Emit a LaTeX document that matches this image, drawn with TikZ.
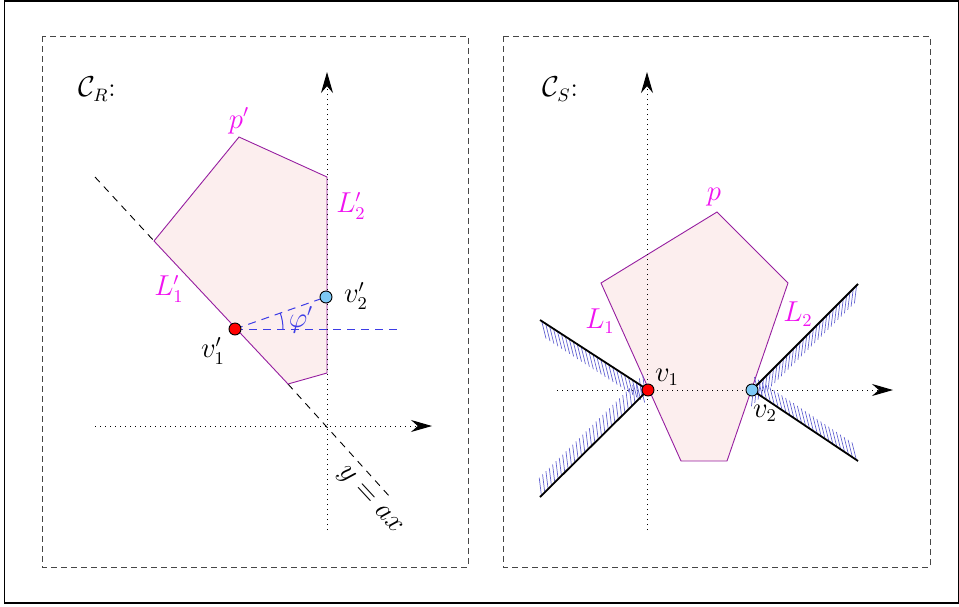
\documentclass[tikz,border=0pt]{standalone}
\usetikzlibrary{arrows.meta,calc}
\definecolor{polyfill}{RGB}{252,238,238}
\definecolor{polyline}{RGB}{150,30,160}
\definecolor{lblmag}{RGB}{240,20,240}
\definecolor{hatchcol}{RGB}{100,100,210}
\definecolor{dotblue}{RGB}{125,200,245}
\definecolor{boxgray}{RGB}{70,70,70}
\definecolor{phiblue}{RGB}{60,60,230}
\begin{document}
\begin{tikzpicture}[x=0.5pt,y=-0.5pt,
  every node/.style={font=\fontsize{13.5}{16}\selectfont},
  boxdash/.style={draw=boxgray,line width=0.45pt,dash pattern=on 3pt off 2pt},
  axisline/.style={line width=0.5pt,dotted,-{Stealth[length=10.5pt,width=6pt]}},
  polyshape/.style={draw=polyline,fill=polyfill,line width=0.45pt},
  bluedash/.style={draw=phiblue,line width=0.5pt,dash pattern=on 4pt off 3pt},
  wedgeline/.style={line width=0.9pt},
  hatchtick/.style={draw=hatchcol,line width=0.35pt},
  vdot/.style={circle,draw=black,line width=0.45pt,inner sep=0pt,minimum size=6pt},
  mag/.style={text=lblmag},
]
\useasboundingbox (0,0) rectangle (959,606);
\draw[line width=0.6pt] (4.5,1) rectangle (958.5,603);

% boxes
\draw[boxdash] (42,36) rectangle (468,567);
\draw[boxdash] (503,36) rectangle (930,567);

% ---------- left panel ----------
\node (CR) at (97,89) {$\mathcal{C}_R$:};
\coordinate (la) at (95,177);
\coordinate (lb) at (390,497);

\coordinate (P1) at (239,137);
\coordinate (P2) at (327,177);
\coordinate (P3) at (327,373);
\coordinate (P4) at (288,384);
\coordinate (P5) at (154,241);
\draw[line width=0.45pt,dash pattern=on 3.5pt off 3pt] (la) -- (P5);
\draw[line width=0.45pt,dash pattern=on 3.5pt off 3pt] (P4) -- (lb);
\node[rotate=-47.3] (yax) at (369,501) {$y=ax$};
\draw[polyshape] (P1) -- (P2) -- (P3) -- (P4) -- (P5) -- cycle;

\coordinate (xa1s) at (95,426);
\coordinate (xa1e) at (432,426);
\coordinate (ya1s) at (327,530);
\coordinate (ya1e) at (327,72);
\draw[axisline] (xa1s) -- (xa1e);
\draw[axisline] (ya1s) -- (ya1e);

\coordinate (v1pc) at (235,329);
\coordinate (v2pc) at (326,297);
\coordinate (hend) at (398,329);
\draw[bluedash] (v1pc) -- (v2pc);
\draw[bluedash] (v1pc) -- (hend);
\draw[phiblue,line width=0.5pt] ($(v1pc)+(48,0)$) arc[start angle=0,end angle=-19.4,radius=48];
\node[text=phiblue] (phi) at (301,320) {$\varphi'$};

\node[vdot,fill=red] (v1p) at (v1pc) {};
\node[vdot,fill=dotblue] (v2p) at (v2pc) {};

\node[mag] (pp) at (239,121) {$p'$};
\node[mag] (L2p) at (351,206) {$L_2'$};
\node[mag] (L1p) at (169,289) {$L_1'$};
\node (v1pl) at (213,351) {$v_1'$};
\node (v2pl) at (356,296) {$v_2'$};

% ---------- right panel ----------
\node (CS) at (560,89) {$\mathcal{C}_S$:};
\coordinate (Q1) at (717,212);
\coordinate (Q2) at (788,283);
\coordinate (Q3) at (727,461);
\coordinate (Q4) at (681,461);
\coordinate (Q5) at (601,283);
\draw[polyshape] (Q1) -- (Q2) -- (Q3) -- (Q4) -- (Q5) -- cycle;

\coordinate (xa2s) at (557,390);
\coordinate (xa2e) at (893,390);
\coordinate (ya2s) at (647,530);
\coordinate (ya2e) at (647,72);
\draw[axisline] (xa2s) -- (xa2e);
\draw[axisline] (ya2s) -- (ya2e);

\coordinate (v1c) at (648,390);
\coordinate (v2c) at (752,390);
\coordinate (wA) at (540,320);
\coordinate (wB) at (540,497);
\coordinate (wC) at (858,284);
\coordinate (wD) at (858,461);

% hatching (short strokes along the inner side of each wedge line)
\foreach \i in {0,...,25}{
  \pgfmathsetmacro\t{(2+4.7*\i)/128.7}
  \draw[hatchtick] ($(wA)!\t!(v1c)$) -- ++(76:18);
}
\foreach \i in {0,...,31}{
  \pgfmathsetmacro\t{(2+4.7*\i)/152}
  \draw[hatchtick] ($(wB)!\t!(v1c)$) -- ++(-97:18);
}
\foreach \i in {0,...,31}{
  \pgfmathsetmacro\t{(2+4.7*\i)/150}
  \draw[hatchtick] ($(wC)!\t!(v2c)$) -- ++(97:18);
}
\foreach \i in {0,...,25}{
  \pgfmathsetmacro\t{(2+4.7*\i)/127.6}
  \draw[hatchtick] ($(wD)!\t!(v2c)$) -- ++(-104:18);
}

\draw[wedgeline] (wA) -- (v1c);
\draw[wedgeline] (wB) -- (v1c);
\draw[wedgeline] (wC) -- (v2c);
\draw[wedgeline] (wD) -- (v2c);

\node[vdot,fill=red] (v1) at (v1c) {};
\node[vdot,fill=dotblue] (v2) at (v2c) {};

\node[mag] (p) at (714,197) {$p$};
\node[mag] (L1) at (600,321) {$L_1$};
\node[mag] (L2) at (798,314) {$L_2$};
\node (v1l) at (667,377) {$v_1$};
\node (v2l) at (765,413) {$v_2$};
\end{tikzpicture}
\end{document}
